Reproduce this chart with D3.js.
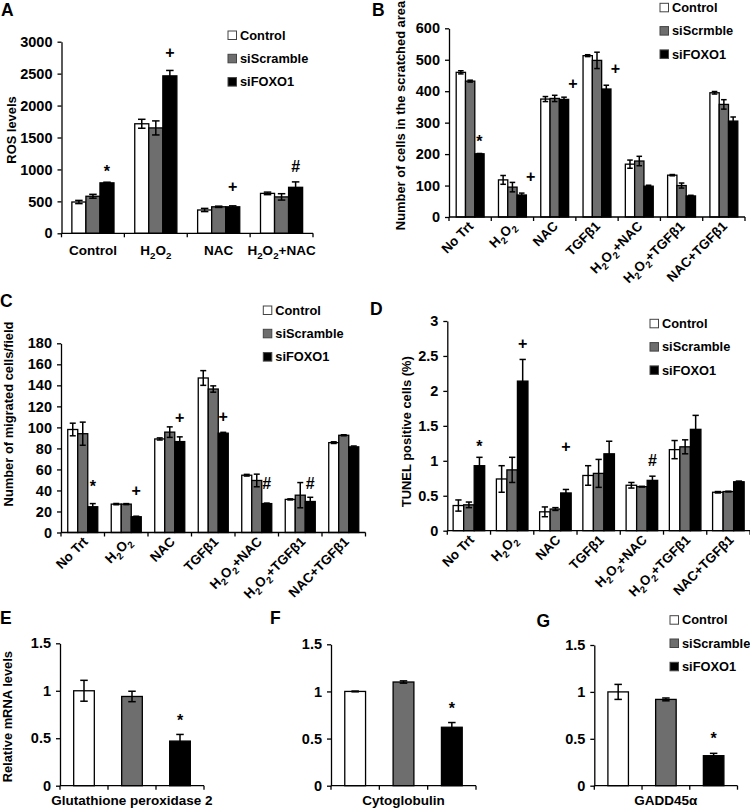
<!DOCTYPE html>
<html><head><meta charset="utf-8">
<script src="https://cdn.jsdelivr.net/npm/d3@7"></script>
<style>
body{margin:0;background:#fff;}
svg{font-family:"Liberation Sans",Arial,Helvetica,sans-serif;font-weight:bold;}
</style></head><body>
<svg id="chart" width="750" height="808"></svg>
<script>
// ---------------- DATA ----------------
const seriesNames = ["Control", "siScramble", "siFOXO1"];
const seriesNamesB = ["Control", "siScrmble", "siFOXO1"];
const seriesColors = ["#ffffff", "#6e6e6e", "#000000"];

// Panel A: ROS levels
const catsA = ["Control", "H2O2", "NAC", "H2O2+NAC"];
const rosControl = [490, 1715, 365, 625];
const rosControlErr = [25, 70, 25, 20];
const rosScramble = [580, 1650, 415, 570];
const rosScrambleErr = [30, 110, 10, 50];
const rosFOXO1 = [790, 2465, 415, 720];
const rosFOXO1Err = [10, 85, 15, 85];
const ticksA = [0, 500, 1000, 1500, 2000, 2500, 3000];
const annotA = [
  {cat: "Control", s: 2, sym: "*", y: 1020},
  {cat: "H2O2", s: 2, sym: "+", y: 2830},
  {cat: "NAC", s: 2, sym: "+", y: 730},
  {cat: "H2O2+NAC", s: 2, sym: "#", y: 1040}
];

// Panels B, C, D share treatments
const catsTrt = ["No Trt", "H2O2", "NAC", "TGF\u03B21", "H2O2+NAC", "H2O2+TGF\u03B21", "NAC+TGF\u03B21"];

// Panel B: cells in scratched area
const scratchControl = [460, 118, 375, 513, 168, 133, 395];
const scratchControlErr = [5, 14, 8, 3, 13, 2, 4];
const scratchScramble = [432, 95, 377, 498, 178, 100, 358];
const scratchScrambleErr = [3, 15, 10, 26, 15, 8, 15];
const scratchFOXO1 = [201, 70, 374, 407, 98, 67, 305];
const scratchFOXO1Err = [1, 6, 7, 12, 3, 2, 13];
const ticksB = [0, 100, 200, 300, 400, 500, 600];
const annotB = [
  {cat: "No Trt", s: 2, sym: "*", y: 250},
  {cat: "H2O2", s: 2, sym: "+", y: 128},
  {cat: "NAC", s: 2, sym: "+", y: 425},
  {cat: "TGF\u03B21", s: 2, sym: "+", y: 473}
];

// Panel C: migrated cells/field
const migControl = [98, 27, 89, 147, 54.5, 31.5, 85.5];
const migControlErr = [6, 0.6, 1, 7, 0.8, 0.5, 0.8];
const migScramble = [94, 27, 95.5, 136.5, 49.5, 35.5, 92.5];
const migScrambleErr = [11, 0.5, 5, 3, 6, 12, 0.5];
const migFOXO1 = [24.5, 15, 86.5, 94.5, 27.5, 29.5, 81.5];
const migFOXO1Err = [3, 0.5, 4.5, 0.8, 0.5, 4, 0.8];
const ticksC = [0, 20, 40, 60, 80, 100, 120, 140, 160, 180];
const annotC = [
  {cat: "No Trt", s: 2, sym: "*", y: 47},
  {cat: "H2O2", s: 2, sym: "+", y: 40},
  {cat: "NAC", s: 2, sym: "+", y: 109},
  {cat: "TGF\u03B21", s: 2, sym: "+", y: 110},
  {cat: "H2O2+NAC", s: 2, sym: "#", y: 47},
  {cat: "H2O2+TGF\u03B21", s: 2, sym: "#", y: 47}
];

// Panel D: TUNEL positive cells (%)
const tunelControl = [0.36, 0.74, 0.27, 0.79, 0.65, 1.16, 0.55];
const tunelControlErr = [0.08, 0.19, 0.07, 0.14, 0.04, 0.13, 0.01];
const tunelScramble = [0.37, 0.87, 0.31, 0.82, 0.63, 1.20, 0.56];
const tunelScrambleErr = [0.04, 0.18, 0.02, 0.20, 0.005, 0.10, 0.005];
const tunelFOXO1 = [0.93, 2.14, 0.54, 1.10, 0.72, 1.45, 0.70];
const tunelFOXO1Err = [0.12, 0.31, 0.05, 0.18, 0.06, 0.20, 0.01];
const ticksD = [0, 0.5, 1, 1.5, 2, 2.5, 3];
const annotD = [
  {cat: "No Trt", s: 2, sym: "*", y: 1.25},
  {cat: "H2O2", s: 2, sym: "+", y: 2.68},
  {cat: "NAC", s: 2, sym: "+", y: 1.20},
  {cat: "H2O2+NAC", s: 2, sym: "#", y: 1.01}
];

// Panels E, F, G: relative mRNA levels
const genes = ["Glutathione peroxidase 2", "Cytoglobulin", "GADD45\u03B1"];
const mrnaGpx2 = [1.00, 0.94, 0.47];
const mrnaGpx2Err = [0.11, 0.055, 0.07];
const mrnaCygb = [1.00, 1.10, 0.62];
const mrnaCygbErr = [0.004, 0.012, 0.05];
const mrnaGadd = [1.00, 0.92, 0.32];
const mrnaGaddErr = [0.08, 0.015, 0.025];
const ticksEFG = [0, 0.5, 1, 1.5];
const annotE = [{cat: "siFOXO1", s: 0, sym: "*", y: 0.73}];
const annotF = [{cat: "siFOXO1", s: 0, sym: "*", y: 0.86}];
const annotG = [{cat: "siFOXO1", s: 0, sym: "*", y: 0.54}];

// ---------------- DRAWING ----------------
const svg = d3.select("#chart");
const STROKE = 1.3;

function addRichText(sel, str, size) {
  const parts = [];
  for (let i = 0; i < str.length; i++) {
    const ch = str[i];
    const sub = ch === "2" && i > 0 && (str[i - 1] === "H" || str[i - 1] === "O");
    if (parts.length && parts[parts.length - 1].sub === sub) parts[parts.length - 1].t += ch;
    else parts.push({t: ch, sub});
  }
  let shifted = false;
  parts.forEach(p => {
    const ts = sel.append("tspan").text(p.t);
    if (p.sub) { ts.attr("font-size", size * 0.72).attr("dy", size * 0.3); shifted = true; }
    else if (shifted) { ts.attr("dy", -size * 0.3); shifted = false; }
  });
}

function drawPanel(p) {
  const g = svg.append("g").attr("fill", "#000");
  const x = d3.scaleBand().domain(p.cats).range([p.x0, p.x1]);
  const y = d3.scaleLinear().domain([0, p.ymax]).range([p.yb, p.yt]);
  const bw = x.bandwidth();
  const inner = d3.scaleBand().domain(d3.range(p.nSeries))
    .range([bw * (1 - p.frac) / 2, bw * (1 + p.frac) / 2]);
  const w = inner.bandwidth();
  const cap = Math.min(w * 0.6, 7.5) / 2;

  // bars
  g.selectAll("rect.bar").data(p.bars).join("rect")
    .attr("class", "bar")
    .attr("x", d => x(d.cat) + inner(d.s))
    .attr("y", d => y(d.v))
    .attr("width", w)
    .attr("height", d => y(0) - y(d.v))
    .attr("fill", d => d.fill)
    .attr("stroke", "#000").attr("stroke-width", STROKE);

  // error bars
  const eg = g.selectAll("g.err").data(p.bars.filter(d => d.e > 0)).join("g").attr("class", "err")
    .attr("stroke", "#000").attr("stroke-width", 1.5);
  eg.append("line")
    .attr("x1", d => x(d.cat) + inner(d.s) + w / 2).attr("x2", d => x(d.cat) + inner(d.s) + w / 2)
    .attr("y1", d => y(d.v + d.e)).attr("y2", d => y(Math.max(0, d.v - d.e)));
  eg.append("line")
    .attr("x1", d => x(d.cat) + inner(d.s) + w / 2 - cap).attr("x2", d => x(d.cat) + inner(d.s) + w / 2 + cap)
    .attr("y1", d => y(d.v + d.e)).attr("y2", d => y(d.v + d.e));
  eg.append("line")
    .attr("x1", d => x(d.cat) + inner(d.s) + w / 2 - cap).attr("x2", d => x(d.cat) + inner(d.s) + w / 2 + cap)
    .attr("y1", d => y(Math.max(0, d.v - d.e))).attr("y2", d => y(Math.max(0, d.v - d.e)));

  // y axis
  const ya = g.append("g").attr("transform", `translate(${p.x0},0)`)
    .call(d3.axisLeft(y).tickValues(p.ticks).tickSize(4).tickSizeOuter(0).tickPadding(5)
      .tickFormat(d => String(d)));
  ya.selectAll("path,line").attr("stroke", "#000").attr("stroke-width", STROKE);
  ya.selectAll("text").attr("font-size", p.tickFont || 14.5).attr("font-family", null)
    .attr("font-weight", "bold").attr("fill", "#000");

  // x axis line + ticks at band boundaries
  g.append("line").attr("x1", p.x0).attr("x2", p.x1).attr("y1", y(0)).attr("y2", y(0))
    .attr("stroke", "#000").attr("stroke-width", STROKE);
  const bounds = p.cats.map(c => x(c)).concat([p.x1]);
  g.selectAll("line.xt").data(bounds).join("line").attr("class", "xt")
    .attr("x1", d => d).attr("x2", d => d).attr("y1", y(0)).attr("y2", y(0) + 4)
    .attr("stroke", "#000").attr("stroke-width", STROKE);

  // category labels
  if (p.catLabels === "rotated") {
    p.cats.forEach(c => {
      const t = g.append("text")
        .attr("transform", `translate(${x(c) + bw / 2 + p.rotDx},${y(0) + p.rotDy}) rotate(-45)`)
        .attr("text-anchor", "end").attr("font-size", p.catFont);
      addRichText(t, c, p.catFont);
    });
  } else if (p.catLabels === "horizontal") {
    p.cats.forEach(c => {
      const t = g.append("text").attr("x", x(c) + bw / 2).attr("y", p.catY)
        .attr("text-anchor", "middle").attr("font-size", p.catFont);
      addRichText(t, c, p.catFont);
    });
  }
  if (p.xTitle) {
    g.append("text").attr("x", (p.x0 + p.x1) / 2).attr("y", p.xTitleY)
      .attr("text-anchor", "middle").attr("font-size", p.catFont).text(p.xTitle);
  }

  // y title
  if (p.yTitle) {
    g.append("text").attr("transform", `translate(${p.yTitleX},${p.yTitleY}) rotate(-90)`)
      .attr("text-anchor", "middle").attr("dominant-baseline", "central")
      .attr("font-size", p.yTitleFont || 12.9).text(p.yTitle);
  }

  // annotations
  const symBase = {"*": 0.57, "+": 0.34, "#": 0.35};
  const symFont = 16;
  (p.annots || []).forEach(a => {
    const cx = x(a.cat) + inner(a.s) + w / 2 + ((p.symDx && p.symDx[a.sym]) || 0);
    g.append("text").attr("x", cx).attr("y", y(a.y) + symBase[a.sym] * symFont)
      .attr("text-anchor", "middle").attr("font-size", symFont).attr("fill", "#000").text(a.sym);
  });

  // panel letter
  g.append("text").attr("x", p.letterX).attr("y", p.letterY).attr("font-size", 17.5).text(p.letter);

  // legend
  if (p.legend) {
    const lg = g.append("g");
    p.legend.names.forEach((n, i) => {
      const yy = p.legend.y + i * 23.3;
      lg.append("rect").attr("x", p.legend.x).attr("y", yy).attr("width", 8.5).attr("height", 8.5)
        .attr("fill", seriesColors[i]).attr("stroke", "#444").attr("stroke-width", 1);
      lg.append("text").attr("x", p.legend.x + 12).attr("y", yy + 8.7)
        .attr("font-size", 12.8).text(n);
    });
  }
}

function groupedBars(cats, valsList, errsList) {
  const out = [];
  valsList.forEach((vals, s) => {
    cats.forEach((c, ci) => out.push({cat: c, s, v: vals[ci], e: errsList[s][ci], fill: seriesColors[s]}));
  });
  return out;
}
function singleBars(vals, errs) {
  return seriesNames.map((n, i) => ({cat: n, s: 0, v: vals[i], e: errs[i], fill: seriesColors[i]}));
}

// Panel A
drawPanel({
  letter: "A", letterX: 1, letterY: 16,
  cats: catsA, nSeries: 3, frac: 0.67,
  bars: groupedBars(catsA, [rosControl, rosScramble, rosFOXO1], [rosControlErr, rosScrambleErr, rosFOXO1Err]),
  x0: 61.5, x1: 313, yb: 233.3, yt: 41.7, ymax: 3000, ticks: ticksA,
  catLabels: "horizontal", catY: 255, catFont: 13.5,
  yTitle: "ROS levels", yTitleX: 11, yTitleY: 130,
  annots: annotA,
  legend: {x: 228, y: 31, names: seriesNames}
});

// Panel B
drawPanel({
  letter: "B", letterX: 372, letterY: 16,
  cats: catsTrt, nSeries: 3, frac: 0.66,
  bars: groupedBars(catsTrt, [scratchControl, scratchScramble, scratchFOXO1], [scratchControlErr, scratchScrambleErr, scratchFOXO1Err]),
  x0: 449, x1: 745, yb: 217, yt: 28.3, ymax: 600, ticks: ticksB,
  catLabels: "rotated", rotDx: 4, rotDy: 10, catFont: 13.3,
  yTitle: "Number of cells in the scratched area", yTitleX: 400.5, yTitleY: 115.5,
  annots: annotB, symDx: {"+": 9},
  legend: {x: 660, y: 3.3, names: seriesNamesB}
});

// Panel C
drawPanel({
  letter: "C", letterX: 0, letterY: 306.7,
  cats: catsTrt, nSeries: 3, frac: 0.69,
  bars: groupedBars(catsTrt, [migControl, migScramble, migFOXO1], [migControlErr, migScrambleErr, migFOXO1Err]),
  x0: 61, x1: 365.5, yb: 532.5, yt: 343.3, ymax: 180, ticks: ticksC,
  catLabels: "rotated", rotDx: 6, rotDy: 10, catFont: 13.3,
  yTitle: "Number of migrated cells/field", yTitleX: 8.5, yTitleY: 414,
  annots: annotC,
  legend: {x: 263.3, y: 306, names: seriesNames}
});

// Panel D
drawPanel({
  letter: "D", letterX: 370, letterY: 315,
  cats: catsTrt, nSeries: 3, frac: 0.73,
  bars: groupedBars(catsTrt, [tunelControl, tunelScramble, tunelFOXO1], [tunelControlErr, tunelScrambleErr, tunelFOXO1Err]),
  x0: 447.3, x1: 750, yb: 530.7, yt: 321, ymax: 3, ticks: ticksD,
  catLabels: "rotated", rotDx: 6, rotDy: 10, catFont: 13.3,
  yTitle: "TUNEL positive cells (%)", yTitleX: 406.5, yTitleY: 431.7,
  annots: annotD,
  legend: {x: 650, y: 319.3, names: seriesNames}
});

// Panel E
drawPanel({
  letter: "E", letterX: 0, letterY: 624,
  cats: seriesNames, nSeries: 1, frac: 0.43,
  bars: singleBars(mrnaGpx2, mrnaGpx2Err),
  x0: 60, x1: 204, yb: 785.7, yt: 643.3, ymax: 1.5, ticks: ticksEFG,
  catLabels: "none", catFont: 13.5, xTitle: genes[0], xTitleY: 805,
  yTitle: "Relative mRNA levels", yTitleX: 7.5, yTitleY: 716.7,
  annots: annotE
});

// Panel F
drawPanel({
  letter: "F", letterX: 270, letterY: 624,
  cats: seriesNames, nSeries: 1, frac: 0.43,
  bars: singleBars(mrnaCygb, mrnaCygbErr),
  x0: 331, x1: 476, yb: 785.7, yt: 644.3, ymax: 1.5, ticks: ticksEFG,
  catLabels: "none", catFont: 13.5, xTitle: genes[1], xTitleY: 805,
  annots: annotF
});

// Panel G
drawPanel({
  letter: "G", letterX: 536.5, letterY: 626.7,
  cats: seriesNames, nSeries: 1, frac: 0.43,
  bars: singleBars(mrnaGadd, mrnaGaddErr),
  x0: 594.3, x1: 737.5, yb: 785.7, yt: 645, ymax: 1.5, ticks: ticksEFG,
  catLabels: "none", catFont: 13.5, xTitle: genes[2], xTitleY: 805,
  annots: annotG,
  legend: {x: 670, y: 615.7, names: seriesNames}
});
</script>
</body></html>
